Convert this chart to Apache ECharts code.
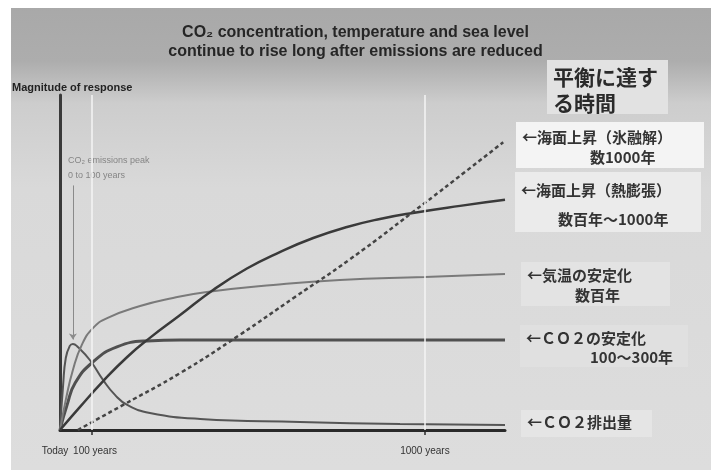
<!DOCTYPE html>
<html>
<head>
<meta charset="utf-8">
<script src="https://cdn.jsdelivr.net/npm/echarts@6/dist/echarts.min.js"></script>
<style>
  html, body { margin: 0; padding: 0; background: #fff; }
  #chart { width: 711px; height: 470px; }
</style>
</head>
<body>
<div id="chart"></div>
<script>
// x: share of the (non-linear) time axis, 0 = today, 100 = right end
// y: magnitude of response, 0..100
const xTicks = [0, 7.2, 82];
const xTickLabels = ['Today', '100 years', '1000 years'];

const emissions = [[0,0],[0.7,13.4],[1.3,21.5],[2.2,25.1],[2.9,25.7],[4.0,24.8],[6.7,20.9],[9.7,14.9],[12.4,10.4],[15.1,7.5],[20.2,5.1],[31.5,3.3],[53.9,2.4],[76.4,1.8],[100,1.5]];
const co2Stable = [[0,0],[1.6,7.5],[3.4,14.0],[7.4,20.3],[12.8,24.8],[19.6,26.6],[27.0,26.9],[100,26.9]];
const tempStable = [[0,0],[1.3,9.0],[2.9,17.9],[4.9,25.4],[7.4,30.4],[10.6,33.4],[18.0,37.0],[25.4,39.4],[33.0,41.2],[47.9,43.3],[62.9,44.8],[82.0,45.7],[100,46.6]];
const seaThermal = [[0,0],[4.5,6.9],[9.7,14.6],[15.1,21.8],[20.2,27.5],[27.0,34.3],[34.4,41.8],[42.0,48.2],[49.4,53.1],[56.9,57.3],[64.5,60.6],[71.9,63.0],[79.3,64.8],[89.9,66.9],[100,68.7]];
const seaIce = [[4.0,0],[14.2,7.5],[27.0,17.0],[40.4,28.4],[52.8,39.7],[65.2,51.0],[82.0,67.8],[91.0,77.0],[99.6,85.9]];

const peakArrow = [[2.9, 73], [2.9, 27]];

const headLabel = '平衡に達す\nる時間';
const rightLabels = [
  ['←海面上昇（氷融解）', '数1000年'],
  ['←海面上昇（熱膨張）', '数百年〜1000年'],
  ['←気温の安定化', '数百年'],
  ['←ＣＯ２の安定化', '100〜300年'],
  ['←ＣＯ２排出量', '']
];

const jp = '"Noto Sans CJK JP", sans-serif';
const en = '"Liberation Sans", Arial, sans-serif';

// boxes: x, y, w, h, fill, line1 y, line2 x, line2 y
const boxes = [
  [516, 122, 188, 46, '#f4f4f4', 137, 590, 157],
  [515, 172, 186, 60, '#ebebeb', 190, 558, 219],
  [521, 262, 149, 44, '#e3e3e3', 275, 575, 295],
  [520, 325, 168, 42, '#e0e0e0', 338, 590, 357],
  [521, 410, 131, 27, '#e5e5e5', 422, 0, 0]
];

const graphics = [
  { type: 'rect', shape: { x: 0, y: 0, width: 711, height: 8 }, style: { fill: '#ffffff' }, z: 0 },
  { type: 'rect', shape: { x: 0, y: 0, width: 11, height: 470 }, style: { fill: '#ffffff' }, z: 0 },
  { type: 'text', x: 12, y: 88, style: { text: 'Magnitude of response', font: 'bold 11px ' + en, fill: '#222', verticalAlign: 'middle' } },
  { type: 'text', left: 68, top: 153, style: { text: 'CO₂ emissions peak\n0 to 100 years', font: '9px ' + en, fill: '#858585', lineHeight: 15 } },
  { type: 'rect', shape: { x: 547, y: 60, width: 121, height: 54 }, style: { fill: '#e2e2e2' } },
  { type: 'text', left: 553, top: 64, style: { text: headLabel, font: 'bold 21px ' + jp, fill: '#2a2a2a', lineHeight: 26 } }
];
boxes.forEach(function (b, i) {
  graphics.push({ type: 'rect', shape: { x: b[0], y: b[1], width: b[2], height: b[3] }, style: { fill: b[4] } });
  graphics.push({ type: 'text', x: b[0] + 6, y: b[5], style: { text: rightLabels[i][0], font: 'bold 15px ' + jp, fill: '#333', verticalAlign: 'middle' } });
  if (rightLabels[i][1]) {
    graphics.push({ type: 'text', x: b[6], y: b[7], style: { text: rightLabels[i][1], font: 'bold 15px ' + jp, fill: '#333', verticalAlign: 'middle' } });
  }
});

const myChart = echarts.init(document.getElementById('chart'));

function curve(data, color, width, extra) {
  return Object.assign({
    type: 'line',
    data: data,
    symbol: 'none',
    smooth: 0.5,
    z: 3,
    lineStyle: { color: color, width: width }
  }, extra || {});
}

myChart.setOption({
  backgroundColor: new echarts.graphic.LinearGradient(0, 0, 0, 1, [
    { offset: 0, color: '#a8a8a8' },
    { offset: 0.13, color: '#adadad' },
    { offset: 0.22, color: '#cdcdcd' },
    { offset: 0.4, color: '#d9d9d9' },
    { offset: 1, color: '#dddddd' }
  ]),
  animation: false,
  title: {
    text: 'CO₂ concentration, temperature and sea level\ncontinue to rise long after emissions are reduced',
    left: 'center',
    top: 18,
    textStyle: { fontFamily: en, fontWeight: 'bold', fontSize: 16, lineHeight: 19, color: '#262626' }
  },
  grid: { left: 60, right: 206, top: 95, bottom: 40 },
  xAxis: {
    type: 'value',
    min: 0,
    max: 100,
    axisLine: { show: true, lineStyle: { color: '#2a2a2a', width: 3 } },
    axisTick: { show: true, customValues: xTicks.slice(1), length: 5, lineStyle: { color: '#2a2a2a', width: 1.5 } },
    splitLine: { show: false },
    axisLabel: {
      customValues: xTicks,
      margin: 16,
      formatter: function (v) {
        const i = xTicks.indexOf(v);
        if (i === 0) return '{a|' + xTickLabels[0] + '}';
        if (i === 1) return '{b|' + xTickLabels[1] + '}';
        return xTickLabels[i];
      },
      fontFamily: en,
      fontSize: 10,
      color: '#333',
      rich: {
        a: { fontFamily: en, fontSize: 10, color: '#333', padding: [0, 10, 0, 0] },
        b: { fontFamily: en, fontSize: 10, color: '#333', padding: [0, 0, 0, 6] }
      }
    }
  },
  yAxis: {
    type: 'value',
    min: 0,
    max: 100,
    axisLine: { show: true, lineStyle: { color: '#3a3a3a', width: 3 } },
    axisTick: { show: false },
    axisLabel: { show: false },
    splitLine: { show: false }
  },
  graphic: graphics,
  series: [
    {
      // white guide lines at 100 and 1000 years
      type: 'line',
      data: [],
      z: 1,
      markLine: {
        silent: true,
        symbol: 'none',
        label: { show: false },
        lineStyle: { color: '#f4f4f4', width: 1.5, type: 'solid' },
        data: [{ xAxis: xTicks[1] }, { xAxis: xTicks[2] }]
      }
    },
    curve(emissions, '#555', 2, {
      markLine: {
        silent: true,
        symbol: ['none', 'arrow'],
        symbolSize: 6,
        label: { show: false },
        lineStyle: { color: '#8a8a8a', width: 1, type: 'solid' },
        data: [[{ coord: peakArrow[0] }, { coord: peakArrow[1] }]]
      }
    }),
    curve(co2Stable, '#505050', 3),
    curve(tempStable, '#7a7a7a', 2),
    curve(seaThermal, '#3a3a3a', 2.5),
    curve(seaIce, '#444', 2.5, { lineStyle: { color: '#444', width: 2.5, type: [4, 3] } })
  ]
});
</script>
</body>
</html>
